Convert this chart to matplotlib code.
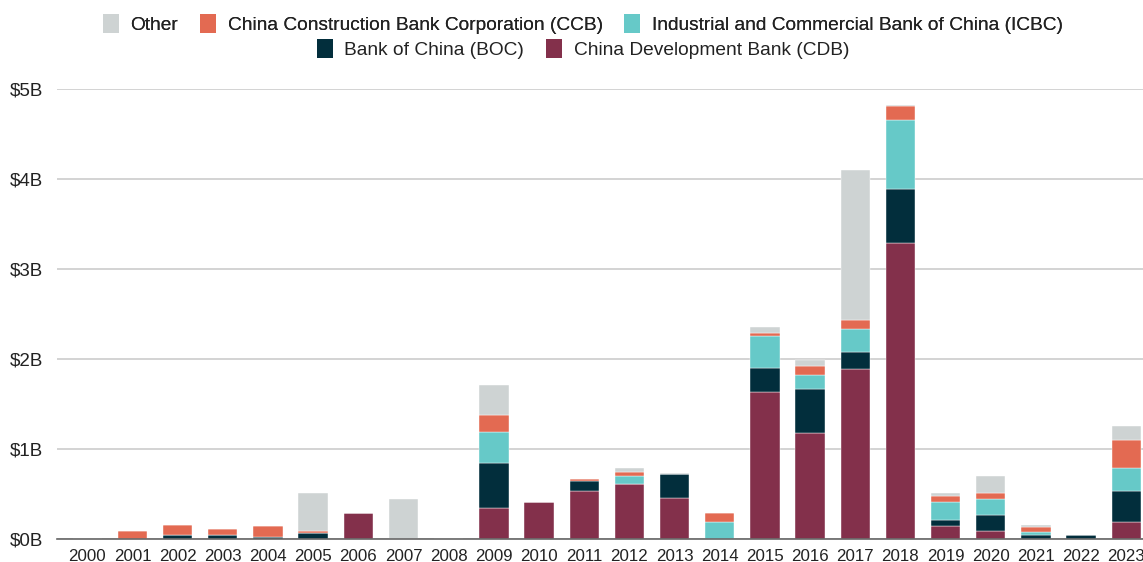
import matplotlib
matplotlib.use("Agg")
import matplotlib.pyplot as plt
import numpy as np
from matplotlib.patches import Patch

years = [str(y) for y in range(2000, 2024)]
cdb   = [0, 0, 0, 0, 0, 0, 0.285, 0, 0, 0.35, 0.41, 0.53, 0.61, 0.455, 0, 1.635, 1.175, 1.89, 3.29, 0.15, 0.085, 0.0, 0, 0.19]
boc   = [0, 0, 0.04, 0.05, 0.025, 0.07, 0, 0, 0, 0.50, 0, 0.12, 0, 0.265, 0, 0.265, 0.49, 0.19, 0.60, 0.06, 0.185, 0.045, 0.04, 0.34]
icbc  = [0, 0, 0, 0, 0, 0, 0, 0, 0, 0.34, 0, 0, 0.09, 0, 0.19, 0.355, 0.155, 0.25, 0.76, 0.20, 0.17, 0.035, 0, 0.26]
ccb   = [0, 0.085, 0.12, 0.065, 0.12, 0.015, 0, 0, 0, 0.185, 0, 0.015, 0.045, 0, 0.095, 0.035, 0.105, 0.10, 0.16, 0.07, 0.075, 0.05, 0, 0.305]
other = [0, 0, 0, 0, 0, 0.425, 0, 0.45, 0, 0.335, 0, 0, 0.045, 0.01, 0, 0.07, 0.065, 1.67, 0.01, 0.03, 0.185, 0.03, 0, 0.165]

series = [
    ("China Development Bank (CDB)", cdb, "#83304B"),
    ("Bank of China (BOC)", boc, "#022E3C"),
    ("Industrial and Commercial Bank of China (ICBC)", icbc, "#66C9C8"),
    ("China Construction Bank Corporation (CCB)", ccb, "#E36A52"),
    ("Other", other, "#CED3D3"),
]

plt.rcParams['font.family'] = ['Liberation Sans', 'DejaVu Sans']
fig = plt.figure(figsize=(11.43, 5.62), dpi=100)
ax = fig.add_axes([57/1143, 1-539/562, 1-57/1143, (539-89)/562])

x = np.arange(len(years))
bottom = np.zeros(len(years))
colors = {}
for name, vals, col in series:
    v = np.array(vals)
    ax.bar(x, v, bottom=bottom, width=0.65, color=col, edgecolor='white', linewidth=0.3, zorder=3)
    bottom += v
    colors[name] = col

ax.set_xlim(-0.67, len(years) - 0.63)
ax.set_ylim(0, 5)
ax.set_yticks([0, 1, 2, 3, 4, 5])
ax.set_yticklabels(["$0B", "$1B", "$2B", "$3B", "$4B", "$5B"], fontsize=13.5, color="#222222")
ax.set_xticks(x)
ax.set_xticklabels(years, fontsize=12.2, color="#222222")
ax.tick_params(axis='x', length=0, pad=7)
ax.tick_params(axis='y', length=0, pad=10)
ax.grid(axis='y', color='#cccccc', linewidth=1.2, zorder=0)
for s in ['top', 'right', 'left']:
    ax.spines[s].set_visible(False)
ax.spines['bottom'].set_color('#666666')
ax.spines['bottom'].set_linewidth(1.2)
ax.spines['bottom'].set_zorder(4)

row1 = ["Other", "China Construction Bank Corporation (CCB)", "Industrial and Commercial Bank of China (ICBC)"]
row2 = ["Bank of China (BOC)", "China Development Bank (CDB)"]
kw = dict(frameon=False, fontsize=13.8, handlelength=0.82, handleheight=1.1,
          handletextpad=0.62, columnspacing=1.13, labelcolor="#222222", borderpad=0)
h1 = [Patch(facecolor=colors[n], label=n) for n in row1]
h2 = [Patch(facecolor=colors[n], label=n) for n in row2]
leg1 = fig.legend(handles=h1, loc='center', bbox_to_anchor=(583/1143, 1-24/562), ncol=3, **kw)
fig.add_artist(leg1)
leg2 = fig.legend(handles=h2, loc='center', bbox_to_anchor=(583/1143, 1-49/562), ncol=2, **kw)

fig.savefig("out.png", dpi=100)
